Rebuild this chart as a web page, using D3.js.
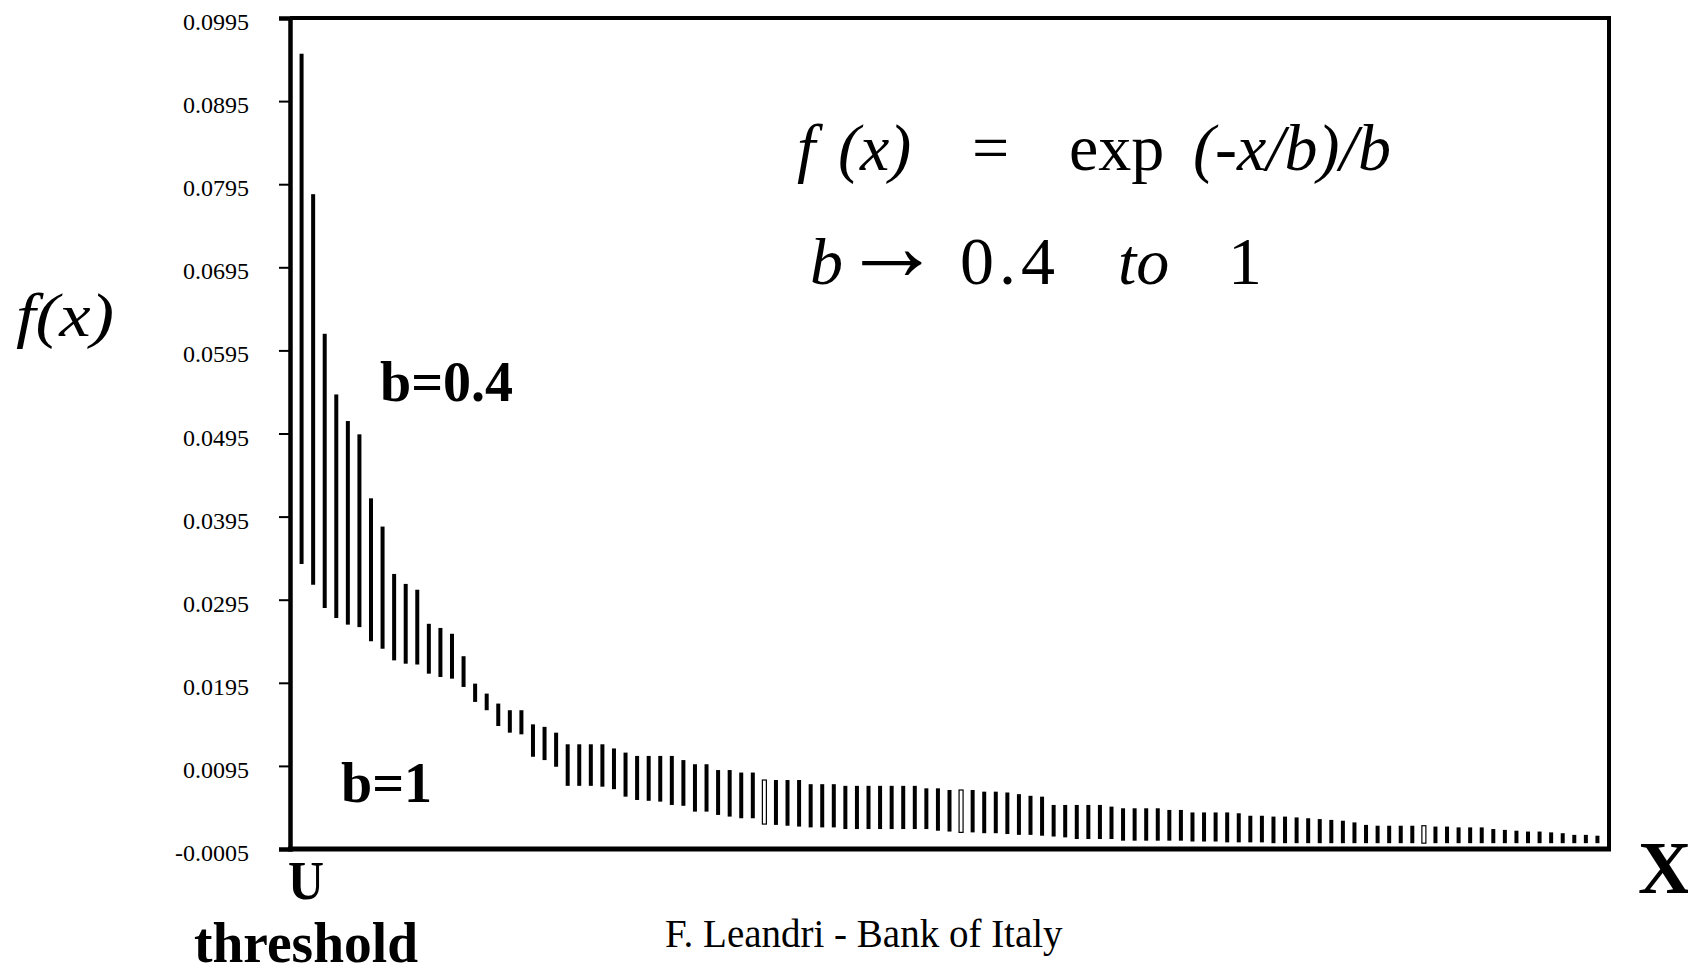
<!DOCTYPE html>
<html>
<head>
<meta charset="utf-8">
<script src="https://cdnjs.cloudflare.com/ajax/libs/d3/7.8.5/d3.min.js"></script>
<style>
  body { margin: 0; background: #ffffff; }
  text { font-family: "Liberation Serif", "Times New Roman", serif; fill: #000000; }
</style>
</head>
<body>
<script>
// high / low value of every bar, left to right
var barHigh = [0.0952,0.0783,0.0615,0.0542,0.0510,0.0494,0.0417,0.0383,0.0326,0.0314,
               0.0307,0.0266,0.0261,0.0254,0.0227,0.0194,0.0182,0.0170,0.0162,0.0162,
               0.0145,0.0142,0.0135,0.0121,0.0121,0.0121,0.0121,0.0116,0.0111,0.0107,
               0.0107,0.0107,0.0107,0.0102,0.0097,0.0097,0.0090,0.0090,0.0087,0.0087,
               0.0078,0.0078,0.0078,0.0078,0.0073,0.0073,0.0073,0.0071,0.0071,0.0071,
               0.0071,0.0071,0.0071,0.0071,0.0068,0.0068,0.0066,0.0066,0.0066,0.0064,
               0.0064,0.0063,0.0061,0.0059,0.0058,0.0048,0.0048,0.0048,0.0048,0.0048,
               0.0046,0.0044,0.0044,0.0044,0.0044,0.0042,0.0042,0.0039,0.0039,0.0039,
               0.0039,0.0038,0.0035,0.0035,0.0034,0.0034,0.0033,0.0032,0.0031,0.0030,
               0.0029,0.0027,0.0024,0.0023,0.0023,0.0023,0.0023,0.0023,0.0022,0.0022,
               0.0021,0.0021,0.0021,0.0019,0.0018,0.0017,0.0016,0.0016,0.0015,0.0014,
               0.0012,0.0012,0.0011];
var barLow = [0.0338,0.0313,0.0285,0.0273,0.0265,0.0262,0.0245,0.0236,0.0222,0.0218,
              0.0217,0.0206,0.0202,0.0200,0.0190,0.0172,0.0162,0.0143,0.0135,0.0133,
              0.0106,0.0102,0.0094,0.0071,0.0071,0.0071,0.0070,0.0067,0.0058,0.0054,
              0.0053,0.0052,0.0048,0.0047,0.0040,0.0040,0.0036,0.0034,0.0032,0.0032,
              0.0025,0.0024,0.0023,0.0022,0.0021,0.0021,0.0021,0.0019,0.0019,0.0019,
              0.0019,0.0019,0.0019,0.0019,0.0019,0.0017,0.0016,0.0015,0.0015,0.0014,
              0.0014,0.0013,0.0012,0.0012,0.0011,0.0010,0.0009,0.0007,0.0007,0.0007,
              0.0007,0.0005,0.0005,0.0005,0.0005,0.0005,0.0005,0.0004,0.0004,0.0004,
              0.0003,0.0003,0.0003,0.0003,0.0002,0.0002,0.0002,0.0002,0.0002,0.0002,
              0.0002,0.0002,0.0002,0.0002,0.0002,0.0002,0.0002,0.0002,0.0002,0.0002,
              0.0002,0.0002,0.0002,0.0002,0.0002,0.0002,0.0002,0.0002,0.0002,0.0002,
              0.0002,0.0002,0.0002];
// bars drawn as outlines only (1-based position)
var hollowBars = [41, 58, 98];
var yTickValues = [-0.0005,0.0095,0.0195,0.0295,0.0395,0.0495,0.0595,0.0695,0.0795,0.0895,0.0995];
var yTickLabels = ["-0.0005","0.0095","0.0195","0.0295","0.0395","0.0495","0.0595","0.0695","0.0795","0.0895","0.0995"];

var plotLeft = 290, plotRight = 1609, plotTop = 18, plotBottom = 849;

var svg = d3.select("body").append("svg").attr("width",1688).attr("height",967);

var x = d3.scaleLinear().domain([0, barHigh.length + 1]).range([plotLeft, plotRight]);
var y = d3.scaleLinear().domain([-0.0005, 0.0995]).range([plotBottom, plotTop]);

// bars
svg.append("g").selectAll("rect")
   .data(barHigh)
   .enter().append("rect")
   .attr("x", function(d,i){ return x(i+1) - 2; })
   .attr("y", function(d){ return y(d); })
   .attr("width", 4)
   .attr("height", function(d,i){ return y(barLow[i]) - y(d); })
   .attr("fill", function(d,i){ return hollowBars.indexOf(i+1) >= 0 ? "#ffffff" : "#000000"; })
   .attr("stroke", function(d,i){ return hollowBars.indexOf(i+1) >= 0 ? "#000000" : "none"; })
   .attr("stroke-width", 1.2);

// y axis
var yAxis = svg.append("g")
  .attr("transform", "translate(" + plotLeft + ",0)")
  .call(d3.axisLeft(y).tickValues(yTickValues).tickSize(11).tickPadding(30)
        .tickFormat(function(d,i){ return yTickLabels[i]; }));
yAxis.select(".domain").attr("stroke-width", 4.5);
yAxis.selectAll(".tick line").attr("stroke-width", 2);
yAxis.selectAll(".tick text")
  .attr("font-family", "Liberation Serif")
  .attr("font-size", 24)
  .attr("dy", "0.48em")
  .attr("fill", "#000");

// frame
svg.append("line").attr("x1",plotLeft).attr("y1",plotTop).attr("x2",plotRight).attr("y2",plotTop)
  .attr("stroke","#000").attr("stroke-width",4);
svg.append("line").attr("x1",plotRight).attr("y1",plotTop-2).attr("x2",plotRight).attr("y2",plotBottom)
  .attr("stroke","#000").attr("stroke-width",4);
svg.append("line").attr("x1",plotLeft-2).attr("y1",plotBottom).attr("x2",plotRight+2).attr("y2",plotBottom)
  .attr("stroke","#000").attr("stroke-width",5);

// labels
svg.append("text").attr("x",16).attr("y",336)
  .attr("font-size",62).attr("font-style","italic")
  .attr("textLength",98).attr("lengthAdjust","spacingAndGlyphs")
  .text("f(x)");

svg.append("text").attr("x",380).attr("y",401)
  .attr("font-size",56).attr("font-weight","bold").text("b=0.4");
svg.append("text").attr("x",341).attr("y",802)
  .attr("font-size",56).attr("font-weight","bold").text("b=1");

svg.append("text").attr("x",288).attr("y",899)
  .attr("font-size",55).attr("font-weight","bold")
  .attr("textLength",36).attr("lengthAdjust","spacingAndGlyphs").text("U");
svg.append("text").attr("x",194).attr("y",962)
  .attr("font-size",56).attr("font-weight","bold")
  .attr("textLength",224).attr("lengthAdjust","spacingAndGlyphs").text("threshold");
svg.append("text").attr("x",1638).attr("y",893)
  .attr("font-size",74).attr("font-weight","bold").text("X");

svg.append("text").attr("x",665).attr("y",947)
  .attr("font-size",39).text("F. Leandri - Bank of Italy");

// formula
var formula = [
  {t:"f", x:797, y:170, it:true, f:null, s:66, ls:0},
  {t:"(x)", x:838, y:170, it:true, f:null, s:66, ls:0},
  {t:"=", x:972, y:170, it:false, f:null, s:66, ls:0},
  {t:"exp", x:1069, y:170, it:false, f:null, s:66, ls:0},
  {t:"(-x/b)/b", x:1193, y:170, it:true, f:null, s:66, ls:0},
  {t:"b", x:810, y:284, it:true, f:null, s:66, ls:0},
  {t:"\u2192", x:842, y:280, it:false, f:"DejaVu Serif", s:100, ls:0},
  {t:"0.4", x:960, y:284, it:false, f:null, s:68, ls:5},
  {t:"to", x:1118, y:284, it:true, f:null, s:66, ls:0},
  {t:"1", x:1228, y:284, it:false, f:null, s:68, ls:0}
];
svg.append("g").selectAll("text")
  .data(formula).enter().append("text")
  .attr("x", function(d){ return d.x; })
  .attr("y", function(d){ return d.y; })
  .attr("font-size", function(d){ return d.s; })
  .attr("letter-spacing", function(d){ return d.ls; })
  .attr("font-family", function(d){ return d.f; })
  .attr("font-style", function(d){ return d.it ? "italic" : "normal"; })
  .text(function(d){ return d.t; });
</script>
</body>
</html>
